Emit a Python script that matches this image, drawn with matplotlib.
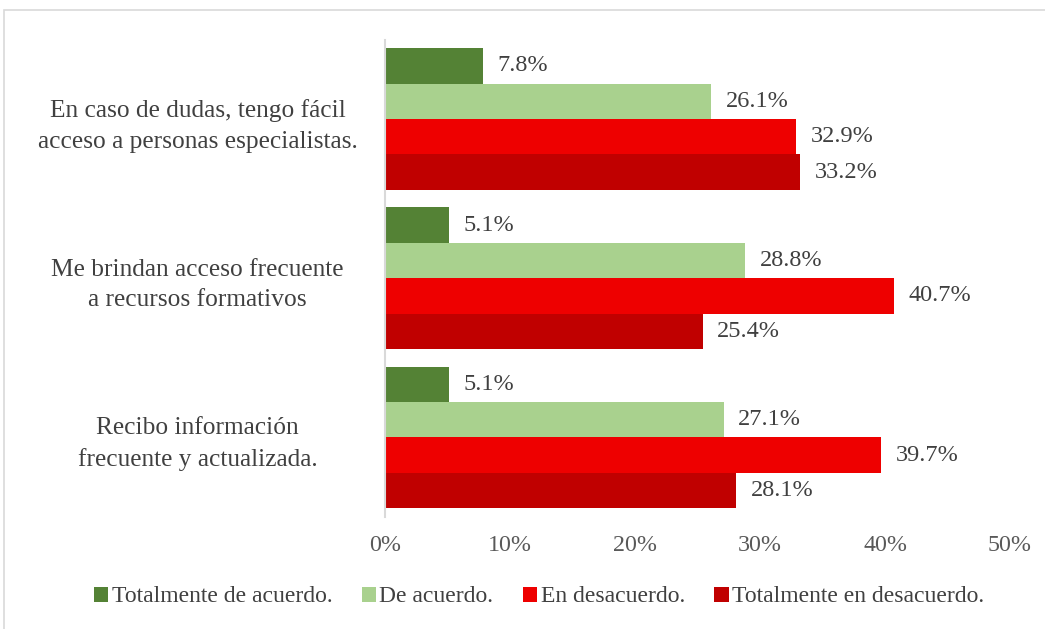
import matplotlib.pyplot as plt
from matplotlib.patches import Rectangle
import numpy as np

plt.rcParams['font.family'] = ['Liberation Serif', 'DejaVu Serif']

categories = ['En caso de dudas, tengo fácil\nacceso a personas especialistas.',
              'Me brindan acceso frecuente\na recursos formativos',
              'Recibo información\nfrecuente y actualizada.']
series = ['Totalmente de acuerdo.', 'De acuerdo.', 'En desacuerdo.', 'Totalmente en desacuerdo.']
values = [
    [7.8, 5.1, 5.1],
    [26.1, 28.8, 27.1],
    [32.9, 40.7, 39.7],
    [33.2, 25.4, 28.1],
]
colors = ['#548235', '#A9D18E', '#EE0000', '#C00000']

fig = plt.figure(figsize=(10.45, 6.29), dpi=100)
ax = fig.add_axes([385 / 1045, 1 - 517 / 629, 625 / 1045, (517 - 39.5) / 629])

# frame around the chart area
fig.patches.append(Rectangle((4 / 1045, -0.1), 1.2, 1 - 10 / 629 + 0.1,
                             transform=fig.transFigure, fill=False,
                             edgecolor='#D9D9D9', linewidth=1.2))

y = np.arange(len(categories))
h = 0.89 / 4
for i, (name, vals) in enumerate(zip(series, values)):
    pos = y - 0.445 + h * (i + 0.5)
    bars = ax.barh(pos, vals, height=h, color=colors[i], label=name)
    for b, v in zip(bars, vals):
        ax.annotate(f'{v:.1f}%', (v, b.get_y() + h / 2), xytext=(10.5, 0),
                    textcoords='offset points', va='center', ha='left',
                    fontsize=17.5, color='#404040')

ax.set_xlim(0, 50)
ax.set_ylim(len(categories) - 0.5, -0.5)
ax.set_xticks(range(0, 51, 10))
ax.set_xticklabels([f'{t}%' for t in range(0, 51, 10)])
ax.set_yticks(y)
ax.set_yticklabels(categories, ha='center', linespacing=1.5)
ax.tick_params(axis='y', length=0, pad=135, labelsize=18.3, labelcolor='#404040')
ax.tick_params(axis='x', length=0, pad=13, labelsize=17.3, labelcolor='#595959')
for s in ['top', 'right', 'bottom']:
    ax.spines[s].set_visible(False)
ax.spines['left'].set_color('#D9D9D9')
ax.spines['left'].set_linewidth(1.5)

fig.legend(loc='center', bbox_to_anchor=(539 / 1045, 1 - 597 / 629), ncol=4,
           frameon=False, fontsize=17, labelcolor='#404040',
           handlelength=0.6, handleheight=0.6, handletextpad=0.15, columnspacing=1.25)

fig.savefig('out.png', dpi=100)
